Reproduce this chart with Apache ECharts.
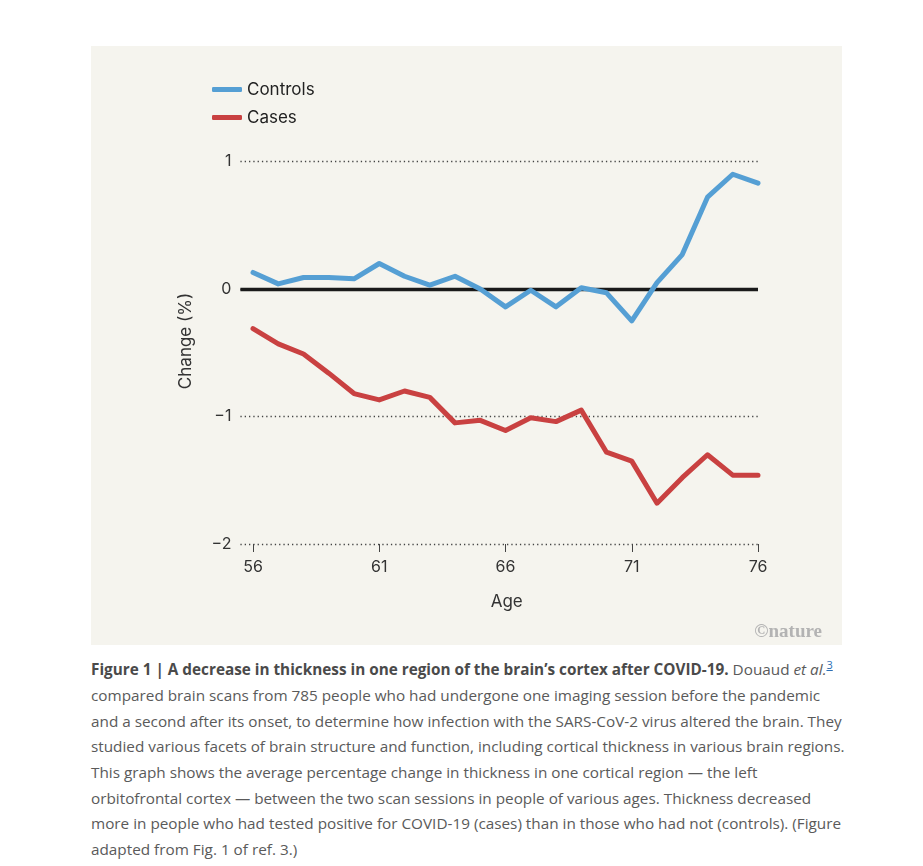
<!DOCTYPE html>
<html>
<head>
<meta charset="utf-8">
<script src="https://cdn.jsdelivr.net/npm/echarts@6/dist/echarts.min.js"></script>
<style>
  html, body { margin: 0; padding: 0; background: #ffffff; width: 923px; height: 866px; overflow: hidden; }
  #panel { position: absolute; left: 91px; top: 46px; width: 751px; height: 599px; background: #f5f4ee; }
  #chart { width: 751px; height: 599px; }
  #caption { position: absolute; left: 91px; top: 652px; width: 820px; font-family: "Open Sans", sans-serif; font-size: 15.3px; color: #5a5a5a; line-height: 25.7px; }
  #caption div { white-space: nowrap; }
  #caption b { color: #4a4a4a; }
  #caption sup a { color: #2a6fb5; font-size: 11px; }
</style>
</head>
<body>
<div id="panel"><div id="chart"></div></div>
<div id="caption">
  <div><b>Figure 1 | A decrease in thickness in one region of the brain’s cortex after COVID-19.</b> Douaud <i>et al.</i><sup><a href="#">3</a></sup></div>
  <div>compared brain scans from 785 people who had undergone one imaging session before the pandemic</div>
  <div>and a second after its onset, to determine how infection with the SARS-CoV-2 virus altered the brain. They</div>
  <div>studied various facets of brain structure and function, including cortical thickness in various brain regions.</div>
  <div>This graph shows the average percentage change in thickness in one cortical region — the left</div>
  <div>orbitofrontal cortex — between the two scan sessions in people of various ages. Thickness decreased</div>
  <div>more in people who had tested positive for COVID-19 (cases) than in those who had not (controls). (Figure</div>
  <div>adapted from Fig. 1 of ref. 3.)</div>
</div>
<script>
const ages = [56,57,58,59,60,61,62,63,64,65,66,67,68,69,70,71,72,73,74,75,76];
const controls = [0.13,0.04,0.09,0.09,0.08,0.20,0.10,0.03,0.10,0.00,-0.14,-0.01,-0.14,0.01,-0.03,-0.25,0.05,0.27,0.72,0.90,0.83];
const cases = [-0.31,-0.43,-0.51,-0.66,-0.82,-0.87,-0.80,-0.85,-1.05,-1.03,-1.11,-1.01,-1.04,-0.95,-1.28,-1.35,-1.68,-1.48,-1.30,-1.46,-1.46];
const xTicks = [56,61,66,71,76];
const yTicks = [-2,-1,0,1];

const FONT = 'Inter, "Noto Sans", sans-serif';
const chart = echarts.init(document.getElementById('chart'), null, { renderer: 'canvas' });
chart.setOption({
  backgroundColor: 'transparent',
  animation: false,
  textStyle: { fontFamily: FONT },
  grid: { left: 149.4, right: 84, top: 115.5, bottom: 101, containLabel: false },
  legend: {
    orient: 'vertical', left: 116, top: 28,
    itemWidth: 30, itemHeight: 5, itemGap: 7,
    icon: 'roundRect',
    textStyle: { fontSize: 17, color: '#222', fontFamily: FONT, lineHeight: 21 },
    data: ['Controls', 'Cases']
  },
  xAxis: {
    type: 'value', min: 55.5, max: 76,
    axisLine: { show: false, onZero: false },
    splitLine: { show: false },
    axisTick: { show: true, customValues: xTicks, length: 8, lineStyle: { color: '#444', width: 1 } },
    axisLabel: { customValues: xTicks, margin: 15, fontSize: 16, color: '#333', fontFamily: FONT }
  },
  yAxis: {
    type: 'value', min: -2, max: 1, interval: 1,
    axisLine: { show: false },
    axisTick: { show: false },
    axisLabel: { margin: 9, fontSize: 16, color: '#333', fontFamily: FONT,
      formatter: v => (v < 0 ? '\u2212' + Math.abs(v) : String(v)) },
    splitLine: { show: true, lineStyle: { color: '#444', width: 1.3, type: [1.3, 3] } }
  },
  graphic: [
    { type: 'text', x: 94.7, y: 295, rotation: Math.PI / 2,
      style: { text: 'Change (%)', fontSize: 17, fill: '#333', fontFamily: FONT, align: 'center', verticalAlign: 'middle' } },
    { type: 'text', x: 415.7, y: 555.7,
      style: { text: 'Age', fontSize: 17, fill: '#333', fontFamily: FONT, align: 'center', verticalAlign: 'middle' } },
    { type: 'text', x: 731, y: 586,
      style: { text: '\u00a9nature', fontSize: 19, fontWeight: 'bold', fill: '#b3b3b3', fontFamily: '"Liberation Serif", serif', align: 'right', verticalAlign: 'middle' } }
  ],
  series: [
    {
      name: 'Controls', type: 'line', data: ages.map((a, i) => [a, controls[i]]),
      symbol: 'none', z: 4,
      lineStyle: { color: '#559fd4', width: 5, cap: 'round', join: 'round' },
      itemStyle: { color: '#559fd4' },
      markLine: {
        silent: true, symbol: 'none', label: { show: false }, z: 2,
        lineStyle: { color: '#1a1a1a', width: 3.4, type: 'solid' },
        data: [{ yAxis: 0 }]
      }
    },
    {
      name: 'Cases', type: 'line', data: ages.map((a, i) => [a, cases[i]]),
      symbol: 'none', z: 4,
      lineStyle: { color: '#c94141', width: 5, cap: 'round', join: 'round' },
      itemStyle: { color: '#c94141' }
    }
  ]
});
</script>
</body>
</html>
